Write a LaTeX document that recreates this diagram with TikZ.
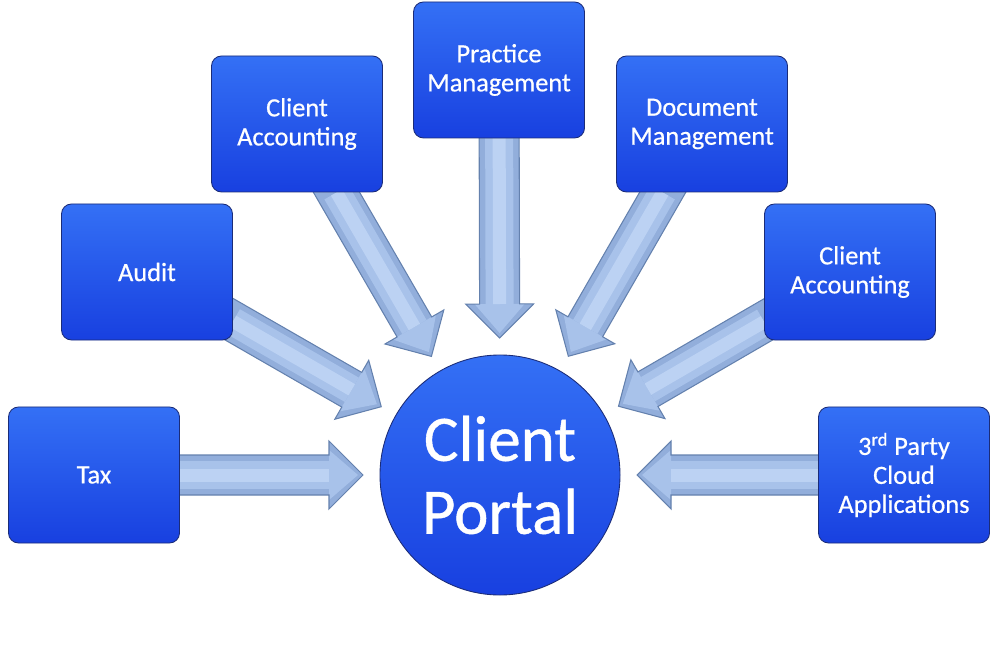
\documentclass[tikz,border=0pt]{standalone}
\usepackage{fontspec}
\setmainfont{Carlito}
\newfontfamily\boxfont{Carlito}[FakeBold=0.6]
\usetikzlibrary{calc,backgrounds}
\definecolor{boxtop}{HTML}{3470F5}
\definecolor{boxbot}{HTML}{1840E0}
\definecolor{boxedge}{HTML}{1B2C78}
\definecolor{arrowedge}{HTML}{6481AE}
\definecolor{arrowlight}{HTML}{BCD2F3}
\definecolor{arrowmid}{HTML}{A8C2EA}
\definecolor{arrowdark}{HTML}{92AEDB}
\begin{document}
\begin{tikzpicture}[x=0.2mm,y=-0.2mm,line join=miter]
			\tikzset{box/.style={rectangle,rounded corners=2mm,minimum width=34.2mm,minimum height=27.2mm,
					top color=boxtop,bottom color=boxbot,draw=boxedge,line width=0.5pt,
					text=white,align=center,font=\boxfont\fontsize{15}{16.5}\selectfont},
				hub/.style={circle,minimum size=48mm,inner sep=0pt,top color=boxtop,bottom color=boxbot,
					draw=boxedge,line width=0.5pt,text=white,align=center,font=\boxfont\fontsize{37}{41.5}\selectfont},
				feed/.style={draw=arrowedge,line width=0.6pt},
				ridge/.style={line cap=butt}
			}
			\useasboundingbox (0,0) rectangle (1000,645);
			\node[hub] (portal) at (500,475) {Client\\Portal};
			\node[box] (tax) at (94,475) {Tax};
			\node[box] (audit) at (147,272) {Audit};
			\node[box] (accl) at (297,124) {Client\\Accounting};
			\node[box] (prac) at (499,70) {Practice\\Management};
			\node[box] (docm) at (702,124) {Document\\Management};
			\node[box] (accr) at (850,272) {Client\\Accounting};
			\node[box] (third) at (904,475) {3\textsuperscript{rd} Party\\Cloud\\Applications};
			\begin{pgfonlayer}{background}
			\foreach \b in {tax,audit,accl,prac,docm,accr,third}{
				\coordinate (\b-tip) at ($(portal.center)!27.4mm!(\b)$);
				\coordinate (\b-base) at ($(\b-tip)!6.8mm!(\b)$);
				\fill[arrowdark] ($(\b)!4mm!90:(\b-tip)$) -- ($(\b-base)!4mm!90:(\b-tip)$)
					-- ($(\b-base)!6.8mm!90:(\b-tip)$) -- (\b-tip) -- ($(\b-base)!6.8mm!-90:(\b-tip)$)
					-- ($(\b-base)!4mm!-90:(\b-tip)$) -- ($(\b)!4mm!-90:(\b-tip)$) -- cycle;
				\fill[arrowmid] ($(\b-base)!3.2mm!90:(\b-tip)$) -- ($(\b-base)!5mm!90:(\b-tip)$)
					-- ($(\b-tip)!1mm!(\b)$) -- ($(\b-base)!5mm!-90:(\b-tip)$) -- ($(\b-base)!3.2mm!-90:(\b-tip)$) -- cycle;
				\draw[ridge,arrowmid,line width=5.6mm] (\b) -- (\b-base);
				\draw[ridge,arrowlight,line width=2.6mm] (\b) -- (\b-base);
				\draw[feed] ($(\b)!4mm!90:(\b-tip)$) -- ($(\b-base)!4mm!90:(\b-tip)$)
					-- ($(\b-base)!6.8mm!90:(\b-tip)$) -- (\b-tip) -- ($(\b-base)!6.8mm!-90:(\b-tip)$)
					-- ($(\b-base)!4mm!-90:(\b-tip)$) -- ($(\b)!4mm!-90:(\b-tip)$);
			}
			\end{pgfonlayer}
		\end{tikzpicture}
\end{document}
